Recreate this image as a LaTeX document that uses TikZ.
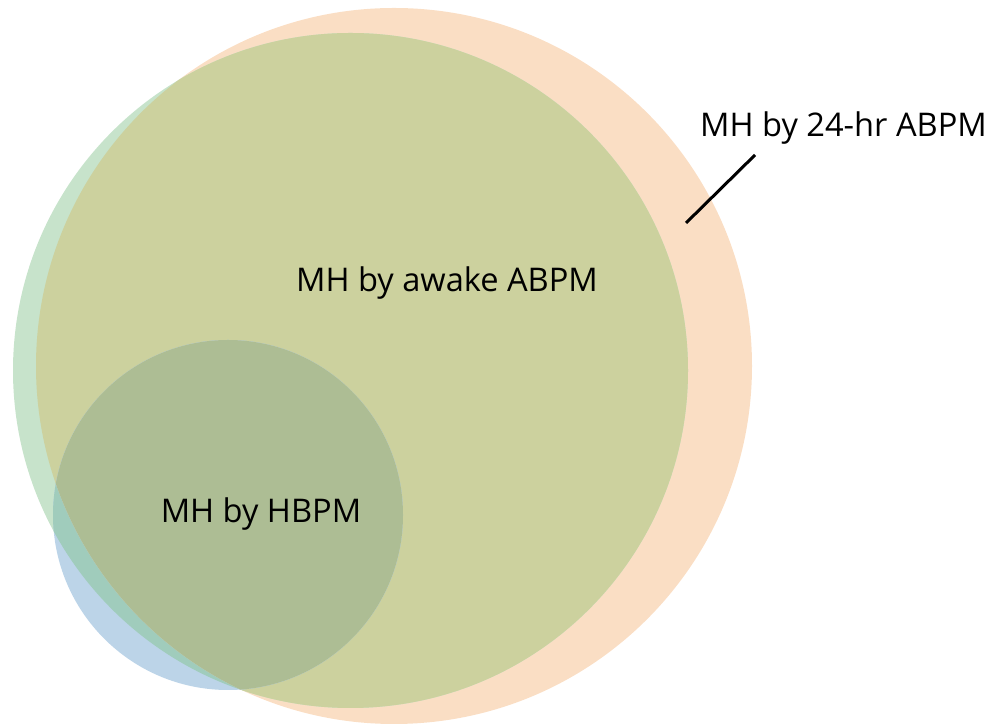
\documentclass[tikz,border=0pt]{standalone}
\usepackage{fontspec}
\setmainfont{Open Sans}
\definecolor{peach}{RGB}{250,222,196}
\definecolor{mint}{RGB}{199,227,203}
\definecolor{olive}{RGB}{204,209,158}
\definecolor{skyb}{RGB}{188,212,232}
\definecolor{teal}{RGB}{160,204,188}
\definecolor{greyo}{RGB}{210,212,205}
\definecolor{darkolive}{RGB}{173,189,148}
\tikzset{lbl/.style={font=\fontsize{32.6}{39}\selectfont, text=black, inner sep=0pt, anchor=base}}
\begin{document}
\begin{tikzpicture}[x=1pt,y=1pt]
\useasboundingbox (0,0) rectangle (996,727);
\def\Ocirc{(394,361) circle (358)}
\def\Gcirc{(350.5,356.5) circle (337.5)}
\def\Bcirc{(228,212) circle (175)}
% orange
\fill[peach] \Ocirc;
% green
\fill[mint] \Gcirc;
\begin{scope}
  \clip \Ocirc;
  \fill[olive] \Gcirc;
\end{scope}
% blue
\fill[skyb] \Bcirc;
\begin{scope}
  \clip \Bcirc;
  \fill[teal] \Gcirc;
  \clip \Ocirc;
  \fill[greyo] \Ocirc;
  \fill[darkolive] \Gcirc;
\end{scope}
% labels
\node[lbl] (abpm24) at (843.5,590) {MH by 24-hr ABPM};
\node[lbl] (awake) at (447,435) {MH by awake ABPM};
\node[lbl] (hbpm) at (261,204) {MH by HBPM};
\coordinate (lineA) at (755,572);
\coordinate (lineB) at (686,504);
\draw[line width=3pt] (lineA) -- (lineB);
\end{tikzpicture}
\end{document}
